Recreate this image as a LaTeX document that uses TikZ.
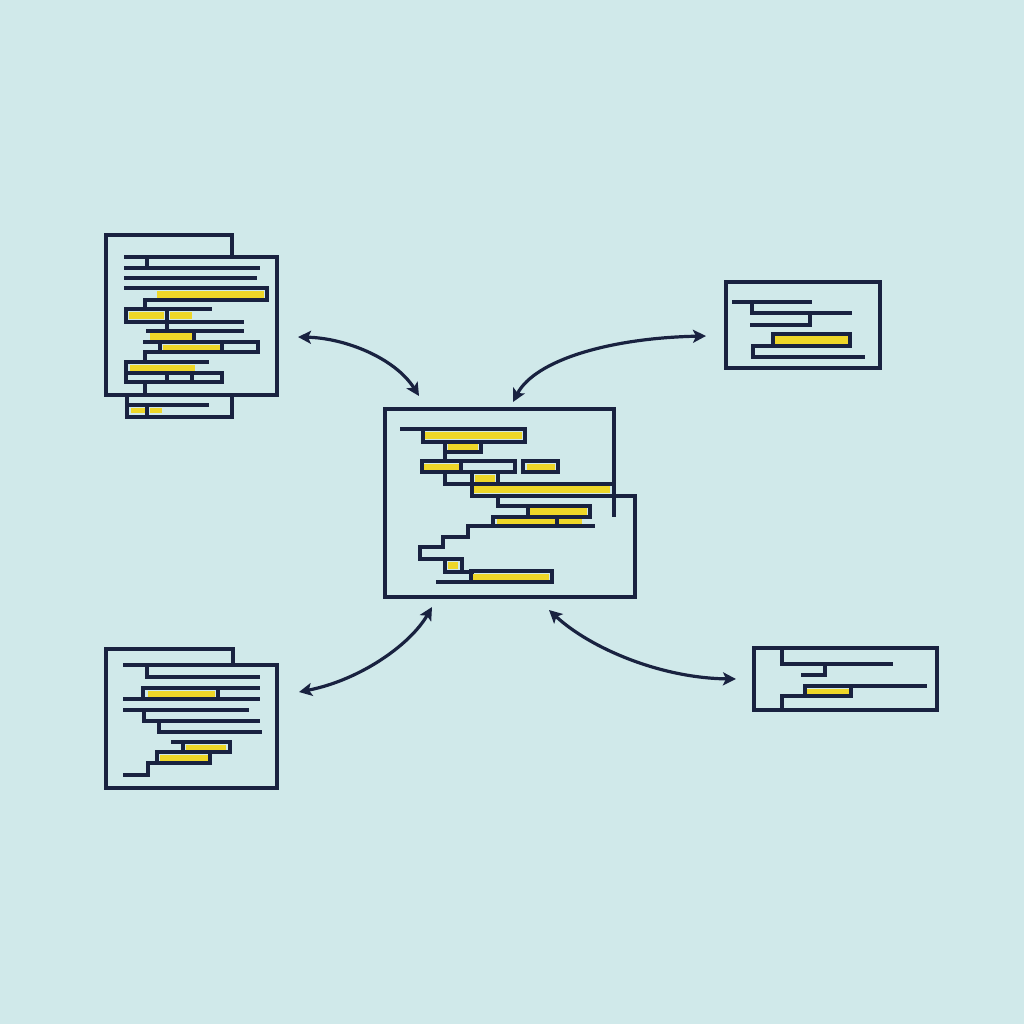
\documentclass[tikz,border=0pt]{standalone}
\usetikzlibrary{arrows.meta}
\definecolor{bgc}{RGB}{208,233,234}
\definecolor{navy}{RGB}{25,34,64}
\definecolor{ylw}{RGB}{238,214,40}
\begin{document}
\begin{tikzpicture}[x=1pt,y=-1pt,
  ln/.style={draw=navy,line width=3.4pt,line join=miter,line cap=rect},
  yf/.style={fill=ylw},
  arr/.style={draw=navy,line width=3.2pt,{Stealth[length=13pt,width=13pt,inset=3pt]}-{Stealth[length=13pt,width=13pt,inset=3pt]}}]
\fill[bgc] (0,0) rectangle (1024,1024);
\useasboundingbox (0,0) rectangle (1024,1024);

% ---------- Box 1 (top left)
\fill[yf] (157,290.5) rectangle (264,297.5);
\fill[yf] (129,312) rectangle (164,319);
\fill[yf] (170,312) rectangle (192,319);
\fill[yf] (150,333) rectangle (192,340);
\fill[yf] (163,344.5) rectangle (220,350);
\fill[yf] (130,365) rectangle (195,371);
\fill[yf] (131,407.5) rectangle (145,413);
\fill[yf] (150,407.5) rectangle (162,413);
\draw[ln] (232,257) -- (232,235) -- (106,235) -- (106,395) -- (277,395) -- (277,257) -- (126,257);
\draw[ln] (127,395) -- (127,417) -- (232,417) -- (232,395);
\draw[ln] (127,405) -- (207,405);
\draw[ln] (147,415) -- (147,405);
\draw[ln] (147,257) -- (147,268);
\draw[ln] (126,268) -- (258,268);
\draw[ln] (126,278) -- (255,278);
\draw[ln] (126,288) -- (267,288) -- (267,300) -- (145,300) -- (145,309);
\draw[ln] (126,309) -- (210,309);
\draw[ln] (126,309) -- (126,322) -- (242,322);
\draw[ln] (167,309) -- (167,331);
\draw[ln] (148,331) -- (242,331);
\draw[ln] (194,331) -- (194,342);
\draw[ln] (145,342) -- (258,342) -- (258,352) -- (145,352) -- (145,362);
\draw[ln] (160,342) -- (160,352);
\draw[ln] (222,342) -- (222,352);
\draw[ln] (126,362) -- (207,362);
\draw[ln] (126,362) -- (126,382) -- (222,382) -- (222,373) -- (126,373);
\draw[ln] (167,373) -- (167,382);
\draw[ln] (192,373) -- (192,382);
\draw[ln] (145,382) -- (145,395);

% ---------- Box 2 (centre)
\fill[yf] (425,431.5) rectangle (522,439);
\fill[yf] (448,444) rectangle (478,450);
\fill[yf] (424,463.5) rectangle (459,470);
\fill[yf] (527,463.5) rectangle (555,470);
\fill[yf] (475,474.5) rectangle (495,481.5);
\fill[yf] (474,486) rectangle (610,493);
\fill[yf] (530,508) rectangle (587,514.5);
\fill[yf] (497,519) rectangle (582,524);
\fill[yf] (448,562) rectangle (458,569);
\fill[yf] (473,573.5) rectangle (549,579.5);
\draw[ln] (614,515) -- (614,409) -- (385,409) -- (385,597) -- (635,597) -- (635,496) -- (614,496);
\draw[ln] (402,429) -- (525,429) -- (525,442) -- (423,442) -- (423,429);
\draw[ln] (445,442) -- (445,461);
\draw[ln] (481,442) -- (481,452) -- (445,452);
\draw[ln] (422,461) -- (515,461) -- (515,472) -- (422,472) -- cycle;
\draw[ln] (461,461) -- (461,472);
\draw[ln] (523,461) rectangle (558,472);
\draw[ln] (445,472) -- (445,484) -- (472,484);
\draw[ln] (472,472) -- (498,472) -- (498,484);
\draw[ln] (472,472) -- (472,496) -- (614,496);
\draw[ln] (472,484) -- (614,484);
\draw[ln] (498,496) -- (498,506) -- (590,506) -- (590,517) -- (493,517);
\draw[ln] (528,506) -- (528,517);
\draw[ln] (493,517) -- (493,526);
\draw[ln] (557,517) -- (557,526);
\draw[ln] (468,526) -- (593,526);
\draw[ln] (468,526) -- (468,537) -- (443,537) -- (443,547) -- (420,547) -- (420,559) -- (462,559) -- (462,572);
\draw[ln] (445,559) -- (445,572) -- (472,572);
\draw[ln] (471,571) -- (552,571) -- (552,582) -- (438,582);
\draw[ln] (471,571) -- (471,582);

% ---------- Box 3 (top right)
\fill[yf] (775,336) rectangle (848,344);
\draw[ln] (726,282) rectangle (880,368);
\draw[ln] (734,302) -- (810,302);
\draw[ln] (752,302) -- (752,313) -- (850,313);
\draw[ln] (810,313) -- (810,325) -- (752,325);
\draw[ln] (773,334) rectangle (850,346);
\draw[ln] (753,346) -- (850,346);
\draw[ln] (753,346) -- (753,357) -- (863,357);

% ---------- Box 4 (bottom left)
\fill[yf] (148,690.5) rectangle (215,697);
\fill[yf] (186,744.5) rectangle (226,750);
\fill[yf] (160,754.5) rectangle (208,761);
\draw[ln] (233,665) -- (233,649) -- (106,649) -- (106,788) -- (277,788) -- (277,665) -- (125,665);
\draw[ln] (147,665) -- (147,677) -- (258,677);
\draw[ln] (143,688) -- (258,688);
\draw[ln] (143,688) -- (143,698);
\draw[ln] (218,688) -- (218,698);
\draw[ln] (125,699) -- (258,699);
\draw[ln] (125,710) -- (247,710);
\draw[ln] (144,710) -- (144,721) -- (258,721);
\draw[ln] (159,721) -- (159,732) -- (260,732);
\draw[ln] (173,742) -- (230,742) -- (230,752);
\draw[ln] (183,742) -- (183,752);
\draw[ln] (157,752) -- (230,752);
\draw[ln] (157,752) -- (157,763);
\draw[ln] (210,752) -- (210,763);
\draw[ln] (148,763) -- (210,763);
\draw[ln] (148,763) -- (148,775) -- (125,775);

% ---------- Box 5 (bottom right)
\fill[yf] (807,688.5) rectangle (849,694);
\draw[ln] (754,648) rectangle (937,710);
\draw[ln] (782,648) -- (782,664) -- (891,664);
\draw[ln] (825,664) -- (825,675) -- (803,675);
\draw[ln] (805,686) -- (925,686);
\draw[ln] (805,686) -- (805,696);
\draw[ln] (851,686) -- (851,696);
\draw[ln] (782,696) -- (851,696);
\draw[ln] (782,696) -- (782,710);

% ---------- Arrows
\coordinate (a1s) at (298,337);
\coordinate (a1e) at (419,396);
\coordinate (a2s) at (513,402);
\coordinate (a2e) at (706,336);
\coordinate (a3s) at (299,692);
\coordinate (a3e) at (432,607);
\coordinate (a4s) at (549,610);
\coordinate (a4e) at (736,679);
\draw[arr] (a1s) .. controls (345,338) and (395,358) .. (a1e);
\draw[arr] (a2s) .. controls (535,360) and (610,338) .. (a2e);
\draw[arr] (a3s) .. controls (360,680) and (410,645) .. (a3e);
\draw[arr] (a4s) .. controls (590,648) and (660,678) .. (a4e);
\end{tikzpicture}
\end{document}
